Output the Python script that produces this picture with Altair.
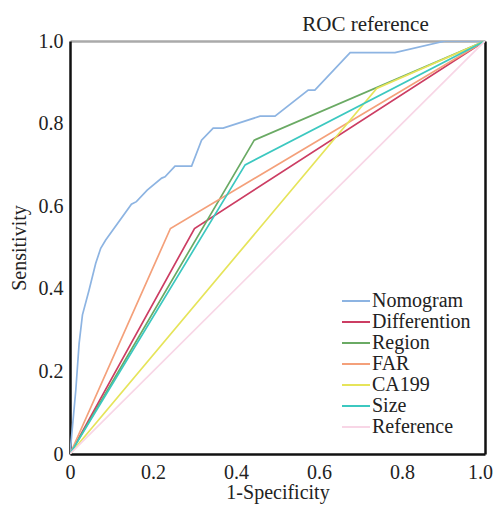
import altair as alt
import pandas as pd

series_names = ["Nomogram", "Differention", "Region", "FAR", "CA199", "Size", "Reference"]
series_colors = ["#8db4e2", "#cc3d63", "#6aaa64", "#f4a07a", "#e6e45a", "#3cc8c0", "#f8d6e6"]

nomogram_fpr = [0, 0.014, 0.022, 0.030, 0.046, 0.062, 0.074, 0.086, 0.148, 0.160, 0.186,
                0.221, 0.229, 0.253, 0.293, 0.317, 0.345, 0.369, 0.458, 0.494, 0.574,
                0.590, 0.675, 0.783, 0.904, 1.0]
nomogram_tpr = [0, 0.155, 0.268, 0.337, 0.397, 0.462, 0.498, 0.518, 0.605, 0.611, 0.639,
                0.668, 0.671, 0.697, 0.697, 0.760, 0.789, 0.789, 0.818, 0.818, 0.881,
                0.881, 0.972, 0.972, 1.0, 1.0]
differention_fpr = [0, 0.30, 1.0]
differention_tpr = [0, 0.546, 1.0]
region_fpr = [0, 0.444, 1.0]
region_tpr = [0, 0.760, 1.0]
far_fpr = [0, 0.242, 1.0]
far_tpr = [0, 0.546, 1.0]
ca199_fpr = [0, 0.739, 1.0]
ca199_tpr = [0, 0.885, 1.0]
size_fpr = [0, 0.422, 1.0]
size_tpr = [0, 0.700, 1.0]
reference_fpr = [0, 1.0]
reference_tpr = [0, 1.0]

x_ticks = [0, 0.2, 0.4, 0.6, 0.8, 1.0]
y_ticks = [0, 0.2, 0.4, 0.6, 0.8, 1.0]

all_series = [
    ("Nomogram", nomogram_fpr, nomogram_tpr),
    ("Differention", differention_fpr, differention_tpr),
    ("Region", region_fpr, region_tpr),
    ("FAR", far_fpr, far_tpr),
    ("CA199", ca199_fpr, ca199_tpr),
    ("Size", size_fpr, size_tpr),
    ("Reference", reference_fpr, reference_tpr),
]
rows = []
for name, xs, ys in all_series:
    for i, (a, b) in enumerate(zip(xs, ys)):
        rows.append({"series": name, "fpr": a, "tpr": b, "idx": i})
df = pd.DataFrame(rows)

FONT = "Liberation Serif"
label_expr = "datum.value == 0 ? '0' : format(datum.value, '.1f')"

xscale = alt.Scale(domain=[0, 1], nice=False, zero=False)
yscale = alt.Scale(domain=[0, 1], nice=False, zero=False)

lines = alt.Chart(df).mark_line(strokeWidth=1.7, clip=True).encode(
    x=alt.X("fpr:Q", scale=xscale,
            axis=alt.Axis(orient="bottom", title="1-Specificity", values=x_ticks,
                          labelExpr=label_expr,
                          ticks=False, grid=False, domainColor="#111", domainWidth=2.5,
                          labelFont=FONT, labelFontSize=20, labelColor="#222",
                          labelPadding=8, labelFlush=False,
                          labelOffset={"condition": {"test": "datum.value == 1", "value": -5},
                                       "value": 0},
                          titleFont=FONT, titleFontSize=20, titleFontWeight="normal",
                          titleColor="#222", titleBaseline="alphabetic", titleY=44)),
    y=alt.Y("tpr:Q", scale=yscale,
            axis=alt.Axis(orient="left", title="Sensitivity", values=y_ticks,
                          labelExpr=label_expr,
                          ticks=False, grid=False, domainColor="#111", domainWidth=2.5,
                          labelFont=FONT, labelFontSize=20, labelColor="#222",
                          labelPadding=7, labelFlush=False,
                          titleFont=FONT, titleFontSize=20, titleFontWeight="normal",
                          titleColor="#222", titleX=-51, titleY=206.5,
                          titleBaseline="middle", titleAlign="center")),
    color=alt.Color("series:N",
                    scale=alt.Scale(domain=series_names, range=series_colors),
                    legend=alt.Legend(title=None, orient="none", legendX=275, legendY=249,
                                      symbolType="M-1.4,0H1.4", symbolSize=400,
                                      symbolStrokeWidth=2, labelFont=FONT,
                                      labelFontSize=20, labelColor="#222",
                                      labelOffset=5, rowPadding=0, padding=0)),
    order="idx:Q",
)

frame = alt.Chart(df).mark_line(opacity=0).encode(
    x=alt.X("fpr:Q", scale=xscale,
            axis=alt.Axis(orient="top", title="ROC reference", labels=False, ticks=False,
                          grid=False, domainColor="#aaaaaa", domainWidth=2.5,
                          titleFont=FONT, titleFontSize=21, titleFontWeight="normal",
                          titleColor="#222", titleX=295, titleY=-11,
                          titleAlign="center", titleBaseline="alphabetic")),
    y=alt.Y("tpr:Q", scale=yscale,
            axis=alt.Axis(orient="right", title=None, labels=False, ticks=False, grid=False,
                          domainColor="#111", domainWidth=2.5)),
    detail="series:N",
)

chart = alt.layer(lines, frame).resolve_axis(x="independent", y="independent").properties(
    width=415,
    height=413,
    autosize=alt.AutoSizeParams(type="none"),
    padding={"left": 62, "top": 33, "right": 10, "bottom": 50},
).configure_view(stroke=None)

chart.save("out.html", embed_options={"renderer": "svg", "actions": False})
